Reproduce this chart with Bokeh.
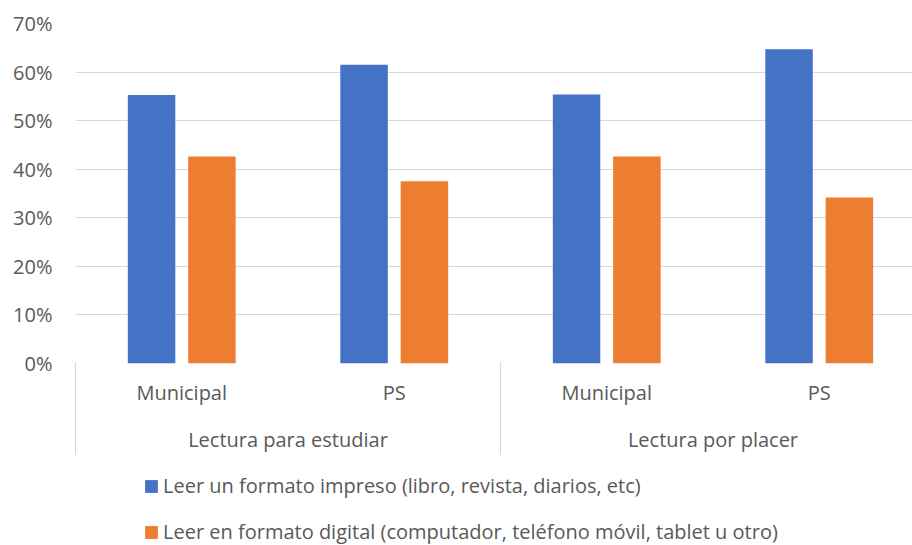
import numpy as np
from bokeh.plotting import figure
from bokeh.layouts import column
from bokeh.models import (Range1d, FixedTicker, NumeralTickFormatter, LinearAxis,
                          Legend, LegendItem, ColumnDataSource, Grid)
from bokeh.transform import dodge
from bokeh.embed import file_html
from bokeh.resources import INLINE

# ---- data ----
groups = ["Lectura para estudiar", "Lectura por placer"]
schools = ["Municipal", "PS"]
series_names = ["Leer un formato impreso (libro, revista, diarios, etc)",
                "Leer en formato digital (computador, teléfono móvil, tablet u otro)"]
impreso = [0.553, 0.615, 0.554, 0.647]
digital = [0.426, 0.375, 0.426, 0.342]
y_ticks = [0.0, 0.1, 0.2, 0.3, 0.4, 0.5, 0.6, 0.7]

FONT = "Open Sans"
TEXT = "#595959"
GRID = "#d9d9d9"
BLUE = "#4472C4"
ORANGE = "#ED7D31"
FS = "20px"

n_sch = len(schools)
cat_labels = [s for g in groups for s in schools]
centers = np.arange(len(cat_labels)) + 0.5
group_edges = np.arange(len(groups)) * n_sch
group_centers = group_edges + n_sch / 2

p = figure(width=912, height=455, output_backend="svg", toolbar_location=None,
           x_range=Range1d(0, 3.939), y_range=Range1d(0, 0.7),
           x_axis_location=None, y_axis_location=None,
           min_border_left=75, min_border_right=0, min_border_top=23,
           min_border_bottom=0)
p.outline_line_color = None
p.background_fill_color = "white"
p.border_fill_color = "white"
p.center = []  # drop default grids

grid = Grid(dimension=1, ticker=FixedTicker(ticks=y_ticks),
            grid_line_color=GRID, grid_line_width=1.2)
p.add_layout(grid)

src = ColumnDataSource(dict(x=centers, impreso=impreso, digital=digital))
bw = 0.2235
off = 0.142
r1 = p.vbar(x=dodge("x", -off), top="impreso", width=bw, source=src,
            fill_color=BLUE, line_color=None)
r2 = p.vbar(x=dodge("x", off), top="digital", width=bw, source=src,
            fill_color=ORANGE, line_color=None)

yax = LinearAxis(ticker=FixedTicker(ticks=y_ticks),
                 formatter=NumeralTickFormatter(format="0%"),
                 axis_line_color=None, major_tick_line_color=None,
                 minor_tick_line_color=None, major_label_standoff=17,
                 major_label_text_font=FONT, major_label_text_font_size=FS,
                 major_label_text_color=TEXT)
p.add_layout(yax, "left")

ax1 = LinearAxis(ticker=FixedTicker(ticks=list(centers)),
                 major_label_overrides={float(c): l for c, l in zip(centers, cat_labels)},
                 axis_line_color=None, major_tick_line_color=None,
                 minor_tick_line_color=None,
                 major_label_standoff=9,
                 major_label_text_font=FONT, major_label_text_font_size=FS,
                 major_label_text_color=TEXT)
p.add_layout(ax1, "below")

ax2 = LinearAxis(ticker=FixedTicker(ticks=list(group_centers)),
                 major_label_overrides={float(c): g for c, g in zip(group_centers, groups)},
                 axis_line_color=None, major_tick_line_color=None,
                 minor_tick_line_color=None,
                 major_label_standoff=11,
                 major_label_text_font=FONT, major_label_text_font_size=FS,
                 major_label_text_color=TEXT)
p.add_layout(ax2, "below")

# separators between category groups
sep = LinearAxis(ticker=FixedTicker(ticks=[float(e) for e in group_edges]),
                 major_label_overrides={float(e): "" for e in group_edges},
                 axis_line_color=None, major_tick_line_color=GRID,
                 major_tick_line_width=1.2, major_tick_in=93, major_tick_out=0,
                 minor_tick_line_color=None,
                 major_label_standoff=0, major_label_text_font_size="0px")
p.add_layout(sep, "below")

# legend strip below the chart (its bars lie outside its view; only the legend shows)
pl = figure(width=912, height=90, output_backend="svg", toolbar_location=None,
            x_range=Range1d(100, 101), y_range=Range1d(100, 101),
            x_axis_location=None, y_axis_location=None, min_border=0)
pl.outline_line_color = None
pl.center = []
l1 = pl.vbar(x=dodge("x", -off), top="impreso", width=bw, source=src,
             fill_color=BLUE, line_color=None)
l2 = pl.vbar(x=dodge("x", off), top="digital", width=bw, source=src,
             fill_color=ORANGE, line_color=None)

legend = Legend(items=[LegendItem(label=series_names[0], renderers=[l1]),
                       LegendItem(label=series_names[1], renderers=[l2])],
                location=(68, 0), orientation="vertical",
                glyph_width=16, glyph_height=16, label_height=20, spacing=19,
                label_standoff=4, padding=0, margin=0,
                border_line_color=None, background_fill_alpha=0,
                label_text_font=FONT, label_text_font_size=FS,
                label_text_color=TEXT)
pl.add_layout(legend, "center")

layout = column(p, pl, spacing=0)
open("out.html", "w").write(file_html(layout, INLINE))
